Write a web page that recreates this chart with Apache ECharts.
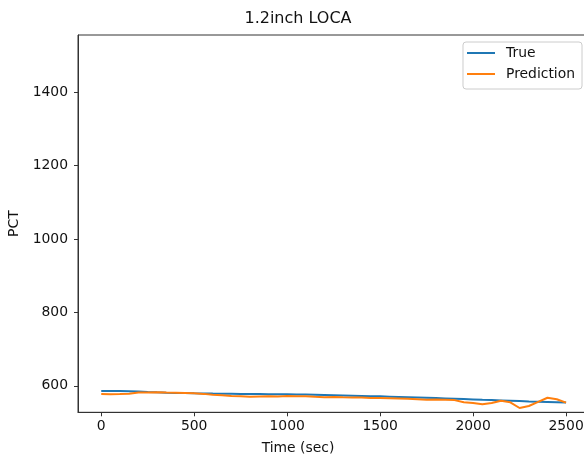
<!DOCTYPE html>
<html>
<head>
<meta charset="utf-8">
<script src="https://cdn.jsdelivr.net/npm/echarts@6/dist/echarts.min.js"></script>
<style>
html,body{margin:0;padding:0;background:#fff;}
#chart{width:584px;height:457px;}
</style>
</head>
<body>
<div id="chart"></div>
<script>
const timeSec = [0,50,100,150,200,250,300,350,400,450,500,550,600,650,700,750,800,850,900,950,1000,1050,1100,1150,1200,1250,1300,1350,1400,1450,1500,1550,1600,1650,1700,1750,1800,1850,1900,1950,2000,2050,2100,2150,2200,2250,2300,2350,2400,2450,2500];
const trueVals = [586,586,585.8,585.3,584.4,583.3,582.3,581.4,580.7,580.1,579.6,579.2,578.8,578.5,578.2,577.9,577.7,577.5,577.3,577.1,576.9,576.5,576,575.4,574.8,574.2,573.6,573,572.4,571.8,571.2,570.5,569.8,569.1,568.3,567.5,566.6,565.7,564.8,563.9,563,562,561.1,560.2,559.3,558.4,557.5,556.7,555.9,555.1,554.3];
const predVals = [577.6,577.2,577.8,578.5,581.5,582,582.2,581.5,581,580.5,579.5,578,575.5,574,572.5,571.5,570.5,571,571.5,571,572,571.5,571.5,570,569,569.5,568.5,568,568,567,566.5,566,565.5,565,563.5,562,562.5,562,561,555,553,550,553,559.5,555,539.5,545,556,567.5,563.5,554];
const xTicks = [0,500,1000,1500,2000,2500];
const yTicks = [600,800,1000,1200,1400];
const seriesNames = ['True','Prediction'];

const FONT = 'DejaVu Sans';
const chart = echarts.init(document.getElementById('chart'), null, {renderer:'canvas'});
const pair = (xs, ys) => xs.map((x,i)=>[x, ys[i]]);

chart.setOption({
  animation:false,
  backgroundColor:'#ffffff',
  textStyle:{fontFamily:FONT},
  title:[
    {text:'1.2inch LOCA', left:298, top:11, padding:0, textAlign:'center',
     textStyle:{fontFamily:FONT, fontSize:16, fontWeight:'normal', color:'#111'}},
    {text:'Time (sec)', left:298, top:441, padding:0, textAlign:'center',
     textStyle:{fontFamily:FONT, fontSize:13.9, fontWeight:'normal', color:'#111'}}
  ],
  grid:{left:78, top:35, width:511.3, height:377.3, outerBoundsMode:'none', containLabel:false,
        show:true, borderColor:'#333', borderWidth:1, backgroundColor:'transparent'},
  legend:{
    data:seriesNames, orient:'vertical', right:2, top:42,
    padding:[4,7,8,4], itemGap:7, itemWidth:28, itemHeight:2,
    icon:'rect',
    backgroundColor:'#fff', borderColor:'#cccccc', borderWidth:1, borderRadius:3,
    textStyle:{fontFamily:FONT, fontSize:13.9, color:'#111', lineHeight:14, padding:[0,0,0,6]}
  },
  xAxis:{
    type:'value', min:-125, max:2625,
    axisLine:{show:true, onZero:false, lineStyle:{color:'#333', width:1}},
    axisTick:{show:true, length:4, lineStyle:{color:'#333'}, customValues:xTicks},
    axisLabel:{fontFamily:FONT, fontSize:13.9, color:'#111', margin:7, customValues:xTicks, formatter:v=>String(v)},
    splitLine:{show:false}
  },
  yAxis:{
    type:'value', min:527.8, max:1556,
    name:'PCT', nameLocation:'middle', nameGap:43, nameRotate:90,
    nameTextStyle:{fontFamily:FONT, fontSize:13.9, color:'#111'},
    axisLine:{show:true, onZero:false, lineStyle:{color:'#333', width:1}},
    axisTick:{show:true, length:4, lineStyle:{color:'#333'}, customValues:yTicks},
    axisLabel:{fontFamily:FONT, fontSize:13.9, color:'#111', margin:10, customValues:yTicks, formatter:v=>String(v)},
    splitLine:{show:false}
  },
  series:[
    {name:seriesNames[0], type:'line', data:pair(timeSec,trueVals), showSymbol:false, symbol:'none',
     lineStyle:{color:'#1f77b4', width:2}, itemStyle:{color:'#1f77b4'}, z:2},
    {name:seriesNames[1], type:'line', data:pair(timeSec,predVals), showSymbol:false, symbol:'none',
     lineStyle:{color:'#ff7f0e', width:2}, itemStyle:{color:'#ff7f0e'}, z:3}
  ]
});
</script>
</body>
</html>
